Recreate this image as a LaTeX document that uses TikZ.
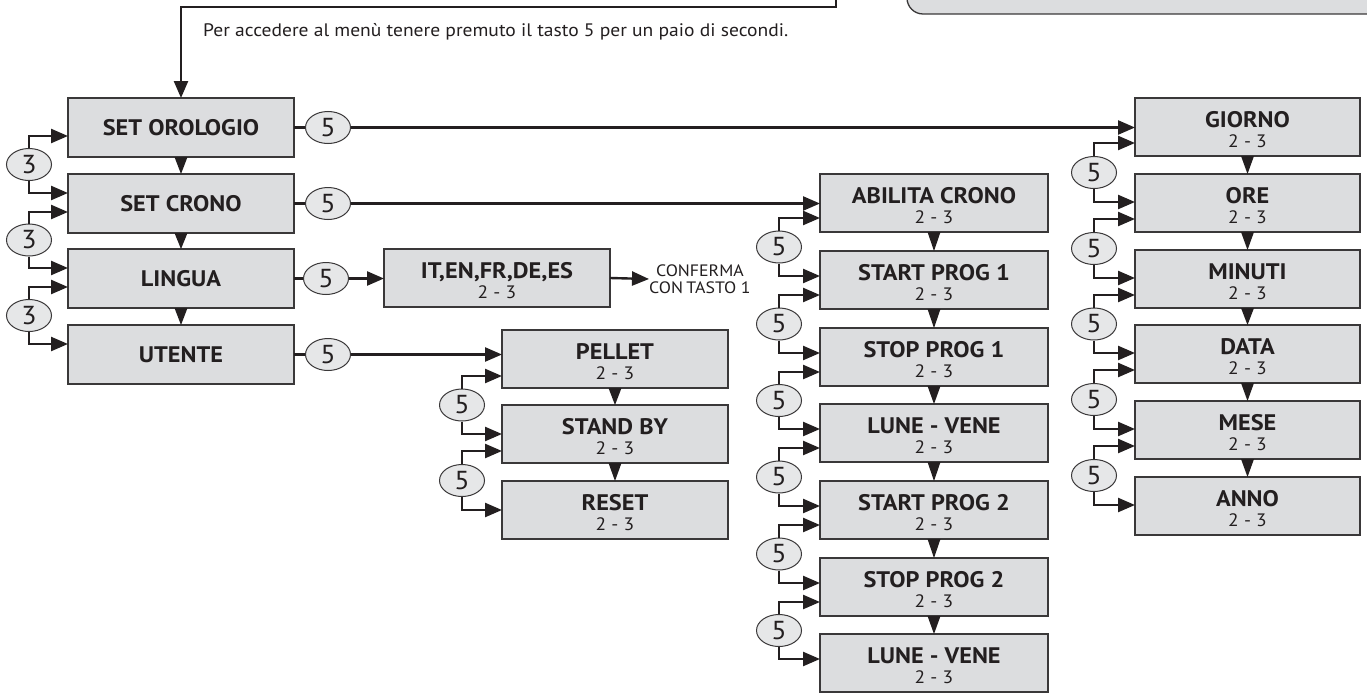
\documentclass[tikz,border=0pt]{standalone}
\usepackage{fontspec}
\setmainfont{PT Sans}[FakeStretch=1.08]
\usetikzlibrary{arrows.meta,shapes.geometric,calc}
\definecolor{ink}{HTML}{231F20}
\definecolor{boxfill}{HTML}{DCDDDF}
\definecolor{ellfill}{HTML}{E6E7E8}
\definecolor{edge}{HTML}{3A3839}
\newcommand\twoline[5]{% name, cx, top, title, width
  \node[menubox,minimum width=#5pt] (#1) at (#2,#3+29) {};
  \node[ttl] (#1t) at ($(#1.north)+(0,29.5)$) {#4};
  \node[subtxt] (#1s) at ($(#1.north)+(0,49)$) {2 - 3};}
\newcommand\oneline[4]{% name, cx, top, title
  \node[menubox,minimum height=59pt] (#1) at (#2,#3+29.5) {};
  \node[ttl] (#1t) at ($(#1.north)+(0,37.5)$) {#4};}
\newcommand\vtri[2]{\fill[ink] ($(#1.south)+(-6.5,0)$) -- ($(#1.south)+(6.5,0)$) -- (#2.north) -- cycle;}
\newcommand\loopk[7]{% ell name, digit, x, prev box, next box, up offset, down offset
  \path let \p1=($(#4.north)+(0,#6)$), \p2=($(#5.north)+(0,#7)$) in
    node[keyell] (#1) at (#3pt,{0.5*\y1+0.5*\y2}) {#2};
  \draw[arr] (#1.north) |- ($(#4.north west)+(0,#6)$);
  \draw[arr] (#1.south) |- ($(#5.north west)+(0,#7)$);}
\begin{document}
\begin{tikzpicture}[x=1pt,y=-1pt,
  menubox/.style={draw=edge, line width=1.3pt, fill=boxfill, minimum width=226pt, minimum height=58pt, inner sep=0pt, outer sep=0pt},
  keyell/.style={ellipse, draw=edge, line width=1pt, fill=ellfill, minimum width=45pt, minimum height=32pt, inner sep=0pt, text=ink, font=\fontsize{26}{26}\selectfont},
  conn/.style={draw=ink, line width=2.4pt},
  arr/.style={conn, -{Triangle[length=17pt,width=14pt]}},
  ttl/.style={font=\fontsize{22.5}{22.5}\selectfont\bfseries, text=ink, inner sep=0pt, anchor=base},
  subtxt/.style={font=\fontsize{18}{18}\selectfont, text=ink, inner sep=0pt, anchor=base},
  note/.style={font=\fontsize{18.1}{18.1}\selectfont, text=ink, inner sep=0pt},
]
\useasboundingbox (0,0) rectangle (1367,693);
\clip (0,0) rectangle (1367,693);
\fill[white] (0,0) rectangle (1367,693);

% top right rounded panel
\draw[draw=edge, line width=1.3pt, fill=boxfill, rounded corners=16pt] (907,-40) rectangle (1400,14);

% column 1
\oneline{so}{181}{98}{SET OROLOGIO}
\oneline{sc}{181}{174}{SET CRONO}
\oneline{li}{181}{249}{LINGUA}
\oneline{ut}{181}{325}{UTENTE}
\vtri{so}{sc}\vtri{sc}{li}\vtri{li}{ut}

% top hint
\coordinate (tp) at (836,-2);
\draw[arr] (tp) -- (836,7) -| (so.north);
\node[note, anchor=base west] (hint) at (203,37) {Per accedere al menù tenere premuto il tasto 5 per un paio di secondi.};

% language box
\twoline{it}{497}{249}{IT,EN,FR,DE,ES}{226}
\node[note, align=center, anchor=west, font=\fontsize{16.5}{17.5}\selectfont] (cf) at (649,279) {CONFERMA\\CON\hspace{0.2em}TASTO 1};
\draw[arr] (it.east) -- (cf.west);

% utente column
\twoline{pe}{615}{330}{PELLET}{226}
\twoline{sb}{615}{405}{STAND BY}{226}
\twoline{re}{615}{481}{RESET}{226}
\vtri{pe}{sb}\vtri{sb}{re}

% crono column
\twoline{ab}{934}{174}{ABILITA CRONO}{228}
\twoline{spa}{934}{251}{START PROG 1}{228}
\twoline{sta}{934}{328}{STOP PROG 1}{228}
\twoline{lva}{934}{404}{LUNE - VENE}{228}
\twoline{spb}{934}{481}{START PROG 2}{228}
\twoline{stb}{934}{558}{STOP PROG 2}{228}
\twoline{lvb}{934}{634}{LUNE - VENE}{228}
\vtri{ab}{spa}\vtri{spa}{sta}\vtri{sta}{lva}\vtri{lva}{spb}\vtri{spb}{stb}\vtri{stb}{lvb}

% orologio column
\twoline{gi}{1247.5}{98}{GIORNO}{225}
\twoline{ore}{1247.5}{174}{ORE}{225}
\twoline{mi}{1247.5}{250}{MINUTI}{225}
\twoline{da}{1247.5}{325}{DATA}{225}
\twoline{me}{1247.5}{401}{MESE}{225}
\twoline{an}{1247.5}{477}{ANNO}{225}
\vtri{gi}{ore}\vtri{ore}{mi}\vtri{mi}{da}\vtri{da}{me}\vtri{me}{an}

% right-side key 5 connectors from column 1
\node[keyell] (ra) at ($(so.east)+(34,0)$) {5};
\node[keyell] (rb) at ($(sc.east)+(34,0)$) {5};
\node[keyell] (rc) at ($(li.east)+(32,0)$) {5};
\node[keyell] (rd) at ($(ut.east)+(34,0)$) {5};
\draw[conn] (so.east) -- (ra.west);
\draw[conn] (sc.east) -- (rb.west);
\draw[conn] (li.east) -- (rc.west);
\draw[conn] (ut.east) -- (rd.west);
\draw[arr] (ra.east) -- (ra.east -| gi.west);
\draw[arr] (rb.east) -- (rb.east -| ab.west);
\draw[arr] (rc.east) -- (rc.east -| it.west);
\draw[arr] (rd.east) -- (rd.east -| pe.west);

% left loops
\loopk{la}{3}{29}{so}{sc}{38}{19}
\loopk{lb}{3}{29}{sc}{li}{38}{19}
\loopk{lc}{3}{29}{li}{ut}{38}{19}

\loopk{pa}{5}{462}{pe}{sb}{46}{29}
\loopk{pb}{5}{462}{sb}{re}{46}{29}

\loopk{ca}{5}{779}{ab}{spa}{44}{25}
\loopk{cb}{5}{779}{spa}{sta}{44}{25}
\loopk{cc}{5}{779}{sta}{lva}{44}{25}
\loopk{cd}{5}{779}{lva}{spb}{44}{25}
\loopk{ce}{5}{779}{spb}{stb}{44}{25}
\loopk{cf5}{5}{779}{stb}{lvb}{44}{25}

\loopk{ga}{5}{1094}{gi}{ore}{45}{28}
\loopk{gb}{5}{1094}{ore}{mi}{45}{28}
\loopk{gc}{5}{1094}{mi}{da}{45}{28}
\loopk{gd}{5}{1094}{da}{me}{45}{28}
\loopk{ge}{5}{1094}{me}{an}{45}{28}
\end{tikzpicture}
\end{document}
